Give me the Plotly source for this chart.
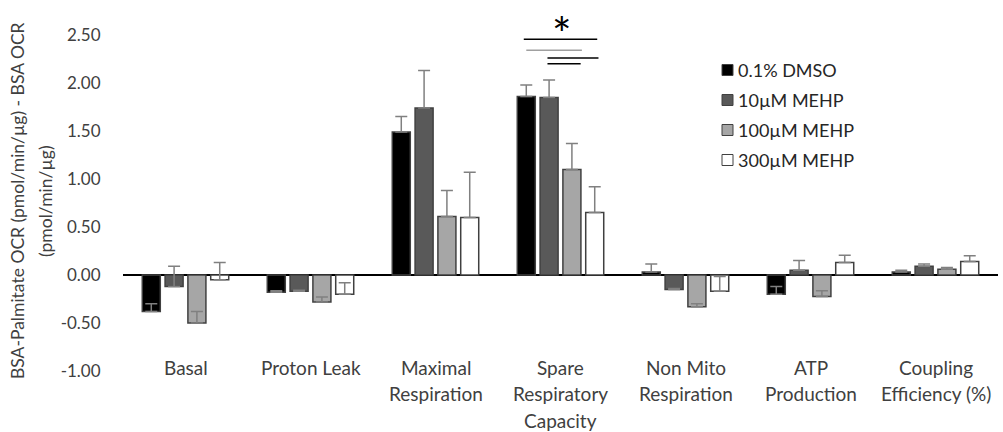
import plotly.graph_objects as go

# Mito stress test parameters (BSA-Palmitate OCR minus BSA OCR)
categories = ["Basal", "Proton Leak", "Maximal\nRespiration",
              "Spare\nRespiratory\nCapacity", "Non Mito\nRespiration",
              "ATP\nProduction", "Coupling\nEfficiency (%)"]

series_names = ["0.1% DMSO", "10µM MEHP", "100µM MEHP", "300µM MEHP"]

dmso = [-0.38, -0.18, 1.49, 1.86, 0.03, -0.20, 0.03]
dmso_err = [0.08, 0.015, 0.16, 0.12, 0.085, 0.08, 0.02]

mehp_10 = [-0.12, -0.17, 1.74, 1.85, -0.15, 0.05, 0.09]
mehp_10_err = [0.21, 0.01, 0.39, 0.18, 0.01, 0.10, 0.025]

mehp_100 = [-0.50, -0.28, 0.61, 1.10, -0.33, -0.225, 0.06]
mehp_100_err = [0.12, 0.05, 0.27, 0.27, 0.03, 0.06, 0.017]

mehp_300 = [-0.05, -0.20, 0.60, 0.65, -0.17, 0.13, 0.14]
mehp_300_err = [0.18, 0.12, 0.47, 0.27, 0.155, 0.076, 0.06]

y_ticks = [-1.0, -0.5, 0.0, 0.5, 1.0, 1.5, 2.0, 2.5]
y_tick_text = ["-1.00", "-0.50", "0.00", "0.50", "1.00", "1.50", "2.00", "2.50"]

y_title_lines = ["BSA-Palmitate OCR (pmol/min/µg) - BSA OCR", "(pmol/min/µg)"]

# significance brackets in the Spare Respiratory Capacity group: (series a, series b, height)
sig_group = 3
sig_pairs = [(0, 3, 2.455), (0, 2, 2.34), (1, 3, 2.26), (1, 2, 2.20)]

values = [dmso, mehp_10, mehp_100, mehp_300]
errors = [dmso_err, mehp_10_err, mehp_100_err, mehp_300_err]
fills = ["#000000", "#595959", "#a6a6a6", "#ffffff"]

BARGAP = 0.27
BARGROUPGAP = 0.21
FONT = "Lato"
TEXT = "#404040"

W, H = 1003, 432
M_L, M_R, M_T, M_B = 123, 5, 11, 61
PLOT_W = W - M_L - M_R
PLOT_H = H - M_T - M_B

x = list(range(len(categories)))

fig = go.Figure()
for name, vals, errs, fill in zip(series_names, values, errors, fills):
    fig.add_trace(go.Bar(
        x=x, y=vals, name=name, showlegend=False,
        marker=dict(color=fill, line=dict(color="#404040", width=1.5)),
        error_y=dict(type="data", array=errs, arrayminus=[0] * len(errs),
                     symmetric=False, color="#808080", thickness=1.5, width=6),
    ))

# bar centre offsets inside a group
slot = (1 - BARGAP) / len(series_names)
def bar_center(group, k):
    return group + (k - (len(series_names) - 1) / 2) * slot

pads = [(-0.02, 0.02), (0.0, 0.08), (-0.013, 0.03), (-0.013, 0.07)]
line_colors = ["#000000", "#a0a0a0", "#000000", "#000000"]
for (a, b, h), (pl, pr), col in zip(sig_pairs, pads, line_colors):
    fig.add_shape(type="line", xref="x", yref="y",
                  x0=bar_center(sig_group, a) + pl, x1=bar_center(sig_group, b) + pr,
                  y0=h, y1=h, line=dict(color=col, width=1.5))

fig.add_annotation(x=sig_group + 0.01, y=2.52, xref="x", yref="y", text="*",
                   showarrow=False, font=dict(family=FONT, size=46, color="#000000"),
                   yanchor="middle")

# category labels, one annotation per text line
LINE_STEP = 26.5
for i, label in enumerate(categories):
    for j, line in enumerate(label.split("\n")):
        fig.add_annotation(x=i, y=0, xref="x", yref="paper", text=line,
                           showarrow=False, yanchor="middle", xanchor="center",
                           yshift=4 - LINE_STEP * j,
                           font=dict(family=FONT, size=19, color=TEXT))

# y-axis title, two rotated lines centred at pixel row 201
title_y = 1 - (201 - M_T) / PLOT_H
for line, px in zip(y_title_lines, [17, 45]):
    fig.add_annotation(x=0, y=title_y, xref="paper", yref="paper", text=line,
                       showarrow=False, textangle=-90, xanchor="center", yanchor="middle",
                       xshift=px - M_L, font=dict(family=FONT, size=17.5, color=TEXT))

# legend drawn as swatches + labels
LEG_X, LEG_Y0, LEG_STEP, SW = 722, 70, 30, 11
for k, (name, fill) in enumerate(zip(series_names, fills)):
    cy = LEG_Y0 + LEG_STEP * k
    fig.add_shape(type="rect", xref="paper", yref="paper",
                  x0=(LEG_X - M_L) / PLOT_W, x1=(LEG_X + SW - M_L) / PLOT_W,
                  y0=1 - (cy + SW / 2 - M_T) / PLOT_H, y1=1 - (cy - SW / 2 - M_T) / PLOT_H,
                  fillcolor=fill, line=dict(color="#404040", width=1))
    fig.add_annotation(x=(LEG_X + SW + 3 - M_L) / PLOT_W, y=1 - (cy - M_T) / PLOT_H,
                       xref="paper", yref="paper", text=name, showarrow=False,
                       xanchor="left", yanchor="middle",
                       font=dict(family=FONT, size=18, color="#262626"))

fig.update_layout(
    width=W, height=H,
    margin=dict(l=M_L, r=M_R, t=M_T, b=M_B),
    paper_bgcolor="white", plot_bgcolor="white",
    barmode="group", bargap=BARGAP, bargroupgap=BARGROUPGAP,
    font=dict(family=FONT, color=TEXT),
    showlegend=False,
    xaxis=dict(range=[-0.5, len(categories) - 0.5], showticklabels=False,
               showgrid=False, zeroline=False, showline=False, ticks=""),
    yaxis=dict(range=[-1.0, 2.75], tickvals=y_ticks, ticktext=y_tick_text,
               showgrid=False, showline=False, zeroline=True,
               zerolinecolor="#000000", zerolinewidth=1.5,
               ticks="outside", ticklen=18, tickcolor="rgba(0,0,0,0)",
               tickfont=dict(family=FONT, size=17, color=TEXT)),
)

fig.write_html("out.html")
